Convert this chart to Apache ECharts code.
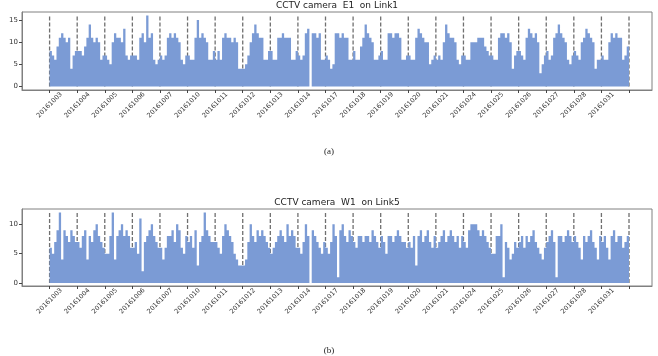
<!DOCTYPE html>
<html>
<head>
<meta charset="utf-8">
<script src="https://cdn.jsdelivr.net/npm/echarts@6/dist/echarts.min.js"></script>
<style>
  html, body { margin: 0; padding: 0; background: #fff; }
  #chart { width: 658px; height: 356px; }
</style>
</head>
<body>
<div id="chart"></div>
<script>
// 交易日（每天12个采样点）
const days = ['20161003', '20161004', '20161005', '20161006', '20161007', '20161010', '20161011',
  '20161012', '20161013', '20161014', '20161017', '20161018', '20161019', '20161020',
  '20161021', '20161024', '20161025', '20161026', '20161027', '20161028', '20161031']

// CCTV camera E1 on Link1, one row per day
const e1Volume = [
  [8, 7, 6, 9, 11, 12, 11, 10, 11, 4, 7, 8],
  [8, 8, 7, 9, 11, 14, 11, 10, 11, 10, 6, 7],
  [7, 6, 5, 10, 12, 11, 11, 10, 13, 7, 6, 7],
  [7, 7, 6, 11, 12, 10, 16, 11, 12, 6, 5, 6],
  [7, 6, 7, 11, 12, 11, 12, 11, 10, 6, 5, 7],
  [7, 6, 6, 11, 15, 11, 12, 11, 10, 6, 6, 8],
  [6, 8, 6, 11, 12, 11, 11, 10, 11, 10, 4, 4],
  [4, 5, 7, 10, 12, 14, 12, 11, 11, 6, 6, 8],
  [8, 6, 6, 11, 11, 12, 11, 11, 11, 6, 6, 8],
  [7, 6, 7, 12, 13, 0, 12, 12, 11, 12, 6, 6],
  [7, 6, 4, 5, 12, 12, 11, 12, 11, 11, 6, 6],
  [8, 6, 6, 9, 11, 14, 12, 11, 10, 6, 6, 7],
  [8, 6, 6, 12, 12, 11, 12, 12, 11, 6, 6, 7],
  [7, 6, 6, 11, 13, 12, 11, 10, 10, 5, 6, 7],
  [6, 7, 6, 10, 14, 12, 11, 11, 10, 6, 5, 7],
  [7, 6, 6, 10, 10, 10, 11, 11, 11, 9, 8, 7],
  [7, 6, 6, 11, 12, 12, 11, 12, 10, 4, 7, 8],
  [8, 7, 6, 11, 13, 12, 11, 12, 10, 3, 5, 7],
  [8, 6, 7, 11, 12, 14, 12, 11, 10, 6, 5, 7],
  [8, 7, 6, 10, 11, 13, 12, 11, 10, 4, 6, 6],
  [7, 6, 6, 10, 12, 11, 12, 11, 11, 6, 7, 9],
]

// CCTV camera W1 on Link5
const w1Volume = [
  [6, 5, 7, 9, 12, 4, 9, 8, 7, 9, 8, 7],
  [7, 6, 8, 9, 4, 8, 7, 9, 10, 8, 7, 6],
  [5, 5, 8, 12, 4, 8, 9, 10, 8, 9, 8, 6],
  [6, 7, 5, 11, 2, 7, 8, 9, 10, 8, 7, 6],
  [6, 4, 6, 8, 8, 9, 7, 10, 9, 6, 5, 8],
  [7, 8, 6, 9, 3, 7, 8, 12, 9, 8, 7, 7],
  [7, 6, 5, 8, 10, 9, 8, 7, 5, 4, 3, 3],
  [3, 4, 7, 10, 8, 7, 9, 8, 9, 8, 7, 6],
  [5, 6, 7, 8, 9, 8, 7, 10, 8, 9, 8, 6],
  [6, 5, 7, 10, 8, 0, 9, 8, 7, 6, 5, 7],
  [6, 5, 7, 10, 8, 1, 9, 10, 8, 7, 9, 8],
  [7, 6, 8, 8, 7, 8, 8, 7, 9, 8, 7, 6],
  [8, 7, 5, 8, 8, 7, 8, 9, 8, 7, 7, 6],
  [7, 6, 8, 3, 8, 9, 7, 8, 9, 7, 6, 8],
  [6, 7, 8, 9, 7, 8, 9, 8, 7, 8, 6, 8],
  [7, 6, 9, 10, 10, 10, 9, 8, 9, 8, 7, 6],
  [5, 5, 8, 8, 10, 1, 7, 6, 4, 5, 7, 6],
  [7, 8, 6, 8, 7, 8, 9, 7, 6, 5, 4, 6],
  [7, 8, 9, 7, 1, 8, 8, 7, 8, 9, 8, 7],
  [8, 7, 6, 4, 8, 7, 8, 9, 7, 6, 4, 8],
  [7, 8, 6, 4, 8, 9, 7, 8, 8, 6, 7, 8],
]

const e1Ticks = [0, 5, 10, 15]
const w1Ticks = [0, 5, 10]

const panels = [
  { title: 'CCTV camera  E1  on Link1', caption: '(a)', rows: e1Volume, ticks: e1Ticks, top: 12, height: 78, yMin: -0.8, yMax: 16.8, capY: 152 },
  { title: 'CCTV camera  W1  on Link5', caption: '(b)', rows: w1Volume, ticks: w1Ticks, top: 209, height: 77, yMin: -0.5, yMax: 12.6, capY: 351 },
]

const perDay = e1Volume[0].length
const total = days.length * perDay
const dayEdges = Array.from({ length: days.length + 1 }, (_, i) => i * perDay)
const fontFamily = 'DejaVu Sans'

// step-area points: value i covers [i, i+1)
function stepPoints(rows) {
  const flat = rows.flat()
  const pts = flat.map((v, i) => [i, v])
  pts.push([flat.length, flat[flat.length - 1]])
  return pts
}

const grid = []
const xAxis = []
const yAxis = []
const series = []
const title = []
const graphic = []

panels.forEach((p, k) => {
  const ymax = Math.max(...p.rows.flat())
  grid.push({
    left: 22,
    right: 6,
    top: p.top,
    height: p.height,
    outerBoundsMode: 'none',
    containLabel: false,
    show: true,
    borderColor: '#808080',
    borderWidth: 1,
  })
  xAxis.push({
    type: 'value',
    gridIndex: k,
    min: -12,
    max: total + 10,
    splitLine: { show: false },
    axisLine: { show: true, onZero: false, lineStyle: { color: '#808080' } },
    axisTick: { show: true, customValues: dayEdges, length: 3, lineStyle: { color: '#444' } },
    axisLabel: {
      customValues: dayEdges.slice(0, -1),
      formatter: v => days[Math.round(v / perDay)] || '',
      rotate: 45,
      align: 'center',
      verticalAlign: 'middle',
      margin: 15,
      fontSize: 6.5,
      color: '#333',
      fontFamily,
    },
  })
  yAxis.push({
    type: 'value',
    gridIndex: k,
    min: p.yMin,
    max: p.yMax,
    name: 'volume',
    nameLocation: 'middle',
    nameGap: 15,
    nameRotate: 90,
    nameTextStyle: { fontSize: 7, color: '#333', fontFamily },
    splitLine: { show: false },
    axisLine: { show: true, onZero: false, lineStyle: { color: '#808080' } },
    axisTick: { show: true, customValues: p.ticks, length: 3, lineStyle: { color: '#444' } },
    axisLabel: { customValues: p.ticks, fontSize: 7, color: '#333', margin: 4, fontFamily },
  })
  // 日分隔虚线（画在面积下面）
  series.push({
    type: 'custom',
    xAxisIndex: k,
    yAxisIndex: k,
    z: 1,
    silent: true,
    data: dayEdges.map(x => [x, ymax]),
    renderItem: (params, api) => {
      const p0 = api.coord([api.value(0), 0])
      const p1 = api.coord([api.value(0), api.value(1)])
      return {
        type: 'line',
        shape: { x1: p0[0], y1: p0[1], x2: p1[0], y2: p1[1] },
        style: { stroke: '#707070', lineWidth: 1.3, lineDash: [4, 2] },
      }
    },
  })
  series.push({
    type: 'line',
    xAxisIndex: k,
    yAxisIndex: k,
    z: 3,
    step: 'end',
    symbol: 'none',
    silent: true,
    lineStyle: { width: 0 },
    areaStyle: { color: '#7b9bd5', opacity: 1, origin: 0 },
    data: stepPoints(p.rows),
  })
  title.push({
    text: p.title,
    left: 337,
    top: p.top - 11,
    textAlign: 'center',
    padding: 0,
    textStyle: { fontSize: 9, fontWeight: 'normal', color: '#222', fontFamily },
  })
  graphic.push({
    type: 'text',
    style: {
      text: p.caption,
      x: 329,
      y: p.capY,
      align: 'center',
      verticalAlign: 'middle',
      fontSize: 9,
      fontFamily: 'Liberation Serif',
      fill: '#222',
    },
  })
})

const chart = echarts.init(document.getElementById('chart'), null, { renderer: 'canvas' })
chart.setOption({
  animation: false,
  title,
  grid,
  xAxis,
  yAxis,
  series,
  graphic,
})
</script>
</body>
</html>
